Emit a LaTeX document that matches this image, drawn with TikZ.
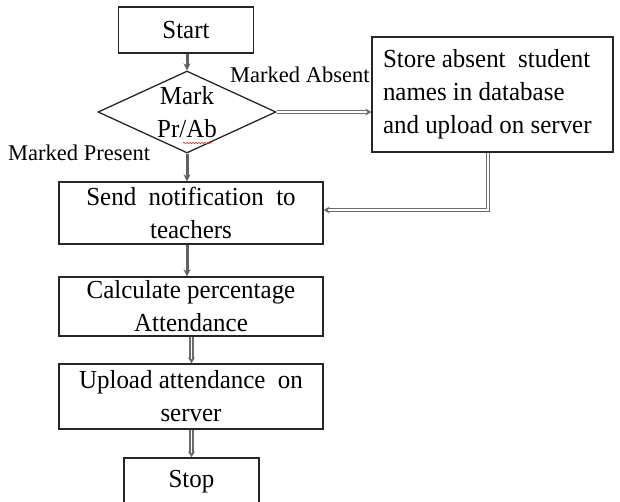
\documentclass[tikz,border=0pt]{standalone}
\usepackage{fontspec}
\setmainfont{Liberation Serif}
\newfontfamily\boxfont[FakeStretch=0.96]{Liberation Serif}
\usetikzlibrary{shapes.geometric,arrows.meta,decorations.pathmorphing}
\begin{document}
\begin{tikzpicture}[x=1pt,y=-1pt,
  box/.style={draw=black!85,line width=1.3pt,fill=white,inner sep=0pt,align=center,
    font=\boxfont\fontsize{26}{33}\selectfont},
  lbl/.style={inner sep=0pt,font=\fontsize{22.5}{26}\selectfont},
  flow/.style={draw=black!62,line width=3pt,-{Stealth[length=7pt,width=7pt]}},
  dflow/.style={draw=black!58,line width=1.4pt,double=white,double distance=1.6pt,
    -{Stealth[length=6pt,width=7pt]}}]
\useasboundingbox (0,0) rectangle (620,501);
\clip (0,0) rectangle (620,501);

% process boxes
\node[box,minimum width=135pt,minimum height=46pt] (start) at (186,30) {Start};
\node[draw=black!85,line width=1.3pt,shape=diamond,inner sep=0pt,
  minimum width=178pt,minimum height=82pt] (dec) at (187,112) {};
\node[box,draw=none,fill=none] (dectext) at (187,112) {Mark\\Pr/Ab};
\node[box,align=flush left,text width=219pt,inner xsep=11pt,minimum height=115pt]
  (store) at (492.5,94.5)
  {Store absent\ \ student\\names\ in database\\and\ upload\ on server};
\node[box,minimum width=264pt,minimum height=62pt] (send) at (191,213)
  {Send\ \ notification\ \ to\\teachers};
\node[box,minimum width=264pt,minimum height=59pt] (calc) at (191,306.5)
  {Calculate percentage\\Attendance};
\node[box,minimum width=264pt,minimum height=65pt] (upl) at (191,396.5)
  {Upload\ attendance\ \ on\\server};
\node[box,minimum width=135pt,minimum height=48pt] (stop) at (191.5,482) {Stop};

% spelling underline under Ab
\draw[red!80,line width=0.6pt,decorate,decoration={snake,amplitude=0.8pt,segment length=3pt}]
  (183,143) -- (212,143);

% branch labels
\node[lbl,anchor=base west] (absent) at (230,82) {Marked Absent};
\node[lbl,anchor=base west] (present) at (8,160) {Marked Present};

% connectors
\draw[flow] (start.south -| dec.north) -- (dec.north);
\draw[dflow] (dec.east) -- (store.west |- dec.east);
\draw[flow] (dec.south) -- (dec.south |- send.north);
\coordinate (bend) at (488,210);
\draw[dflow] (store.south -| bend) -- (bend) -- (bend -| send.east);
\draw[flow] (send.south -| dec.south) -- (calc.north -| dec.south);
\draw[dflow] (calc.south -| stop.north) -- (stop.north |- upl.north);
\draw[dflow] (upl.south -| stop.north) -- (stop.north);
\end{tikzpicture}
\end{document}
